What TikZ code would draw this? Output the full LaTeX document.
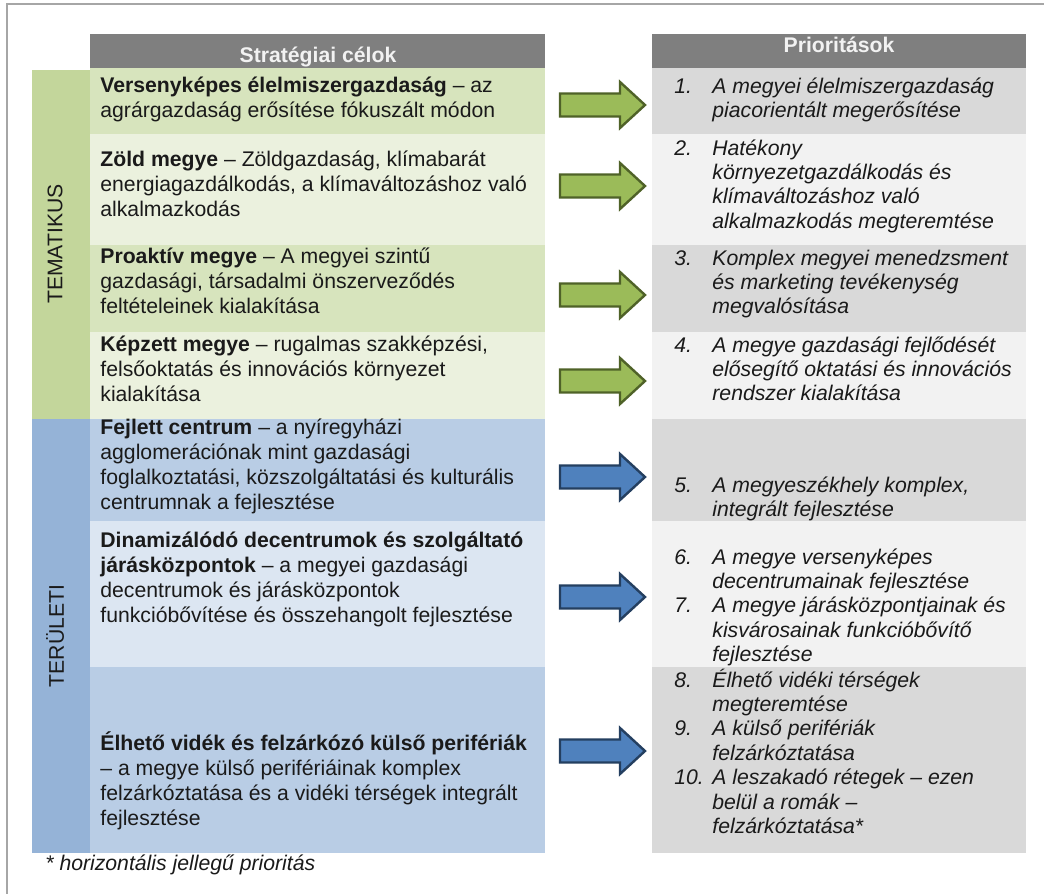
\documentclass[tikz,border=0pt]{standalone}
\usepackage{fontspec}
\setmainfont{Liberation Sans}
\usepackage{tikz}

\definecolor{hdgray}{HTML}{7F7F7F}
\definecolor{hdtext}{HTML}{F2F2F2}
\definecolor{sidegreen}{HTML}{C3D69B}
\definecolor{greendark}{HTML}{D7E4BD}
\definecolor{greenlight}{HTML}{EBF1DE}
\definecolor{sideblue}{HTML}{95B3D7}
\definecolor{bluedark}{HTML}{B9CDE5}
\definecolor{bluelight}{HTML}{DCE6F2}
\definecolor{graydark}{HTML}{D9D9D9}
\definecolor{graylight}{HTML}{F2F2F2}
\definecolor{arrgreen}{HTML}{9BBB59}
\definecolor{arrgreenln}{HTML}{4F6228}
\definecolor{arrblue}{HTML}{4F81BD}
\definecolor{arrblueln}{HTML}{243F60}
\definecolor{framegray}{HTML}{A6A6A6}
\definecolor{txt}{HTML}{1A1A1A}

% lines of a cell, baseline on the first line
\newcommand{\celllines}[1]{\begin{tabular}[t]{@{}l@{}}#1\end{tabular}}
% number column of the priority list
\newcommand{\prnum}[1]{\makebox[19pt][l]{#1}}
\newcommand{\prind}{\hspace*{19pt}}
% block arrow: centre y, fill, outline
\newcommand{\bigarrow}[3]{%
  \filldraw[fill=#2, draw=#3, line width=1.2pt, line join=miter]
    (560,#1-11.5) -- (620,#1-11.5) -- (620,#1-23) -- (645,#1)
    -- (620,#1+23) -- (620,#1+11.5) -- (560,#1+11.5) -- cycle;}

\begin{document}
\begin{tikzpicture}[x=0.5pt, y=-0.5pt,
    goal/.style = {anchor=base west, inner sep=0pt, text=txt,
                   font=\fontsize{10.6}{12.5}\selectfont},
    prio/.style = {anchor=base west, inner sep=0pt, text=txt,
                   font=\fontsize{10.6}{12.2}\selectfont\itshape},
    head/.style = {anchor=base, inner sep=0pt, text=hdtext,
                   font=\fontsize{10.6}{12.5}\selectfont\bfseries},
    side/.style = {rotate=90, inner sep=0pt, text=txt,
                   font=\fontsize{10.6}{12.5}\selectfont}]
  \useasboundingbox (0,0) rectangle (1044,894);

  % Frame
  \draw[framegray, line width=1pt] (7,894) -- (7,4) -- (1044,4);

  % Headers
  \fill[hdgray] (90,34) rectangle (545,68);
  \fill[hdgray] (652,34) rectangle (1026,68);
  \node[head] (hgoal) at (318,62) {Stratégiai célok};
  \node[head] (hprio) at (839,53) {Prioritások};

  % Side bands
  \fill[sidegreen] (32,70) rectangle (90,419);
  \fill[sideblue] (32,419) rectangle (90,853);
  \node[side] (tema) at (55,244) {TEMATIKUS};
  \node[side] (terul) at (55,636) {TERÜLETI};

  % Rows, left column
  \fill[greendark]  (90,68)  rectangle (545,134);
  \fill[greenlight] (90,134) rectangle (545,245);
  \fill[greendark]  (90,245) rectangle (545,332);
  \fill[greenlight] (90,332) rectangle (545,419);
  \fill[bluedark]   (90,419) rectangle (545,521);
  \fill[bluelight]  (90,521) rectangle (545,667);
  \fill[bluedark]   (90,667) rectangle (545,853);

  % Rows, right column
  \fill[graydark]  (652,68)  rectangle (1026,134);
  \fill[graylight] (652,134) rectangle (1026,245);
  \fill[graydark]  (652,245) rectangle (1026,332);
  \fill[graylight] (652,332) rectangle (1026,419);
  \fill[graydark]  (652,419) rectangle (1026,521);
  \fill[graylight] (652,521) rectangle (1026,667);
  \fill[graydark]  (652,667) rectangle (1026,853);

  % Goals
  \node[goal] (g1) at (100,92) {\celllines{\textbf{Versenyképes élelmiszergazdaság} – az\\
    agrárgazdaság erősítése fókuszált módon}};
  \node[goal] (g2) at (100,166) {\celllines{\textbf{Zöld megye} – Zöldgazdaság, klímabarát\\
    energiagazdálkodás, a klímaváltozáshoz való\\ alkalmazkodás}};
  \node[goal] (g3) at (100,263) {\celllines{\textbf{Proaktív megye} – A megyei szintű\\
    gazdasági, társadalmi önszerveződés\\ feltételeinek kialakítása}};
  \node[goal] (g4) at (100,351) {\celllines{\textbf{Képzett megye} – rugalmas szakképzési,\\
    felsőoktatás és innovációs környezet\\ kialakítása}};
  \node[goal] (g5) at (100,434) {\celllines{\textbf{Fejlett centrum} – a nyíregyházi\\
    agglomerációnak mint gazdasági\\
    foglalkoztatási, közszolgáltatási és kulturális\\ centrumnak a fejlesztése}};
  \node[goal] (g6) at (100,547) {\celllines{\textbf{Dinamizálódó decentrumok és szolgáltató}\\
    \textbf{járásközpontok} – a megyei gazdasági\\ decentrumok és járásközpontok\\
    funkcióbővítése és összehangolt fejlesztése}};
  \node[goal] (g7) at (100,750) {\celllines{\textbf{Élhető vidék és felzárkózó külső perifériák}\\
    – a megye külső perifériáinak komplex\\
    felzárkóztatása és a vidéki térségek integrált\\ fejlesztése}};

  % Arrows
  \bigarrow{105}{arrgreen}{arrgreenln}
  \bigarrow{186}{arrgreen}{arrgreenln}
  \bigarrow{295}{arrgreen}{arrgreenln}
  \bigarrow{381}{arrgreen}{arrgreenln}
  \bigarrow{477}{arrblue}{arrblueln}
  \bigarrow{597}{arrblue}{arrblueln}
  \bigarrow{751}{arrblue}{arrblueln}

  % Priorities
  \node[prio] (p1) at (674,93) {\celllines{\prnum{1.}A megyei élelmiszergazdaság\\
    \prind piacorientált megerősítése}};
  \node[prio] (p2) at (674,155) {\celllines{\prnum{2.}Hatékony\\ \prind környezetgazdálkodás és\\
    \prind klímaváltozáshoz való\\ \prind alkalmazkodás megteremtése}};
  \node[prio] (p3) at (674,265) {\celllines{\prnum{3.}Komplex megyei menedzsment\\
    \prind és marketing tevékenység\\ \prind megvalósítása}};
  \node[prio] (p4) at (674,352) {\celllines{\prnum{4.}A megye gazdasági fejlődését\\
    \prind elősegítő oktatási és innovációs\\ \prind rendszer kialakítása}};
  \node[prio] (p5) at (674,492) {\celllines{\prnum{5.}A megyeszékhely komplex,\\
    \prind integrált fejlesztése}};
  \node[prio] (p6) at (674,564) {\celllines{\prnum{6.}A megye versenyképes\\
    \prind decentrumainak fejlesztése\\ \prnum{7.}A megye járásközpontjainak és\\
    \prind kisvárosainak funkcióbővítő\\ \prind fejlesztése}};
  \node[prio] (p7) at (674,687) {\celllines{\prnum{8.}Élhető vidéki térségek\\
    \prind megteremtése\\ \prnum{9.}A külső perifériák\\ \prind felzárkóztatása\\
    \prnum{10.}A leszakadó rétegek – ezen\\ \prind belül a romák –\\
    \prind felzárkóztatása*}};

  % Footnote
  \node[prio] (note) at (45,870) {* horizontális jellegű prioritás};
\end{tikzpicture}
\end{document}
